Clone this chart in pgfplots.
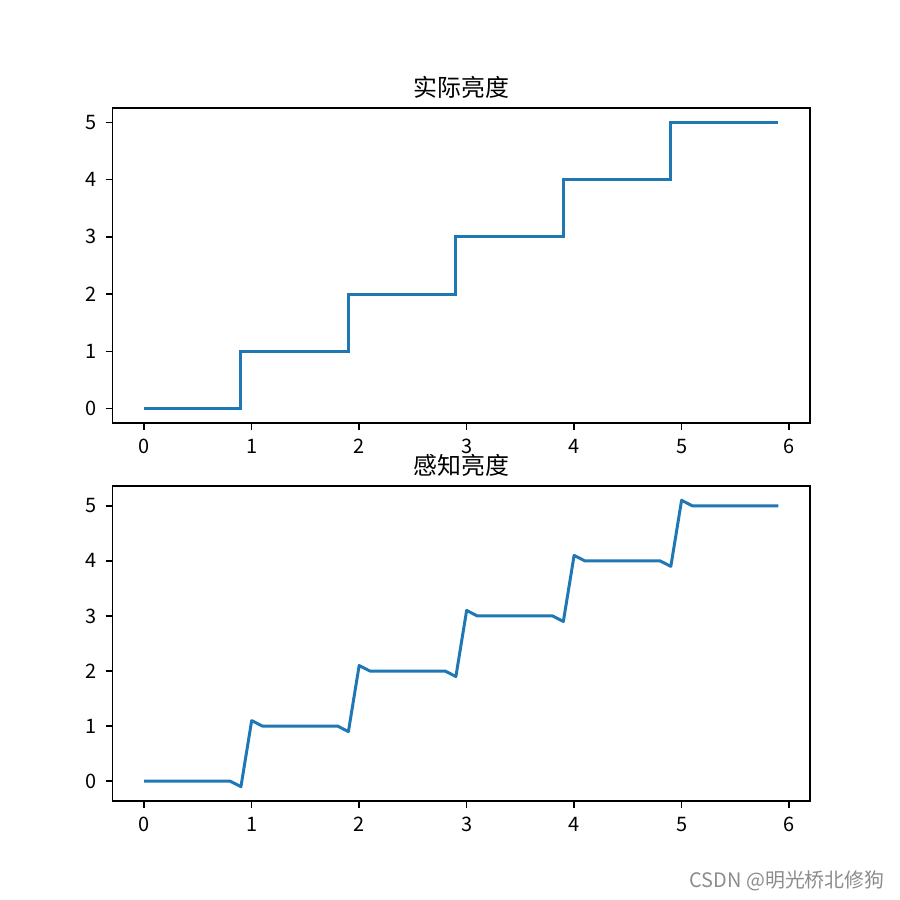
\documentclass[border=0pt]{standalone}
\usepackage{pgfplots}
\pgfplotsset{compat=1.18}
\usepackage{fontspec}
\setmainfont{Noto Sans CJK SC}
\definecolor{mplblue}{HTML}{1F77B4}
% figure is 6.25in square, rendered at 144 dpi
\pgfplotsset{
  mpl/.style={
    scale only axis,
    width=4.84375in, height=2.1875in,
    anchor=south west,
    axis line style={line width=0.8pt},
    tick align=outside,
    major tick length=3.5pt,
    every tick/.style={black, line width=0.8pt},
    xtick pos=bottom, ytick pos=left,
    xmin=-0.295, xmax=6.195,
    xtick={0,1,2,3,4,5,6},
    ytick={0,1,2,3,4,5},
    tick label style={font=\fontsize{10pt}{12pt}\selectfont, inner sep=0pt},
    xticklabel style={anchor=north, yshift=-4.5pt},
    yticklabel style={anchor=east, xshift=-4.2pt},
    /pgf/number format/assume math mode=true,
    title style={font=\fontsize{12pt}{14pt}\selectfont, at={(0.5,1)}, anchor=base, inner sep=0pt, yshift=0pt},
  }
}
\begin{document}
\begin{tikzpicture}
\path[use as bounding box] (0,0) rectangle (6.25in,6.25in);
\begin{axis}[mpl, at={(0.78125in,3.3125in)}, ymin=-0.25, ymax=5.25, title={实际亮度}]
\addplot[mplblue, line width=1.5pt, const plot mark right] coordinates {
(0,0) (0.9,0) (1.0,1) (1.9,1) (2.0,2) (2.9,2) (3.0,3) (3.9,3) (4.0,4) (4.9,4) (5.0,5) (5.9,5)
};
\end{axis}
\begin{axis}[mpl, at={(0.78125in,0.6875in)}, ymin=-0.36, ymax=5.36, title={感知亮度}]
\addplot[mplblue, line width=1.5pt, line join=round] coordinates {
(0,0) (0.8,0) (0.9,-0.1) (1.0,1.1) (1.1,1.0) (1.8,1.0) (1.9,0.9)
(2.0,2.1) (2.1,2.0) (2.8,2.0) (2.9,1.9) (3.0,3.1) (3.1,3.0) (3.8,3.0) (3.9,2.9)
(4.0,4.1) (4.1,4.0) (4.8,4.0) (4.9,3.9) (5.0,5.1) (5.1,5.0) (5.9,5.0)
};
\end{axis}
\node[anchor=base east, text=black!45, font=\fontsize{10pt}{12pt}\selectfont, inner sep=0pt] at (6.146in,0.09in) {CSDN @明光桥北修狗};
\end{tikzpicture}
\end{document}
